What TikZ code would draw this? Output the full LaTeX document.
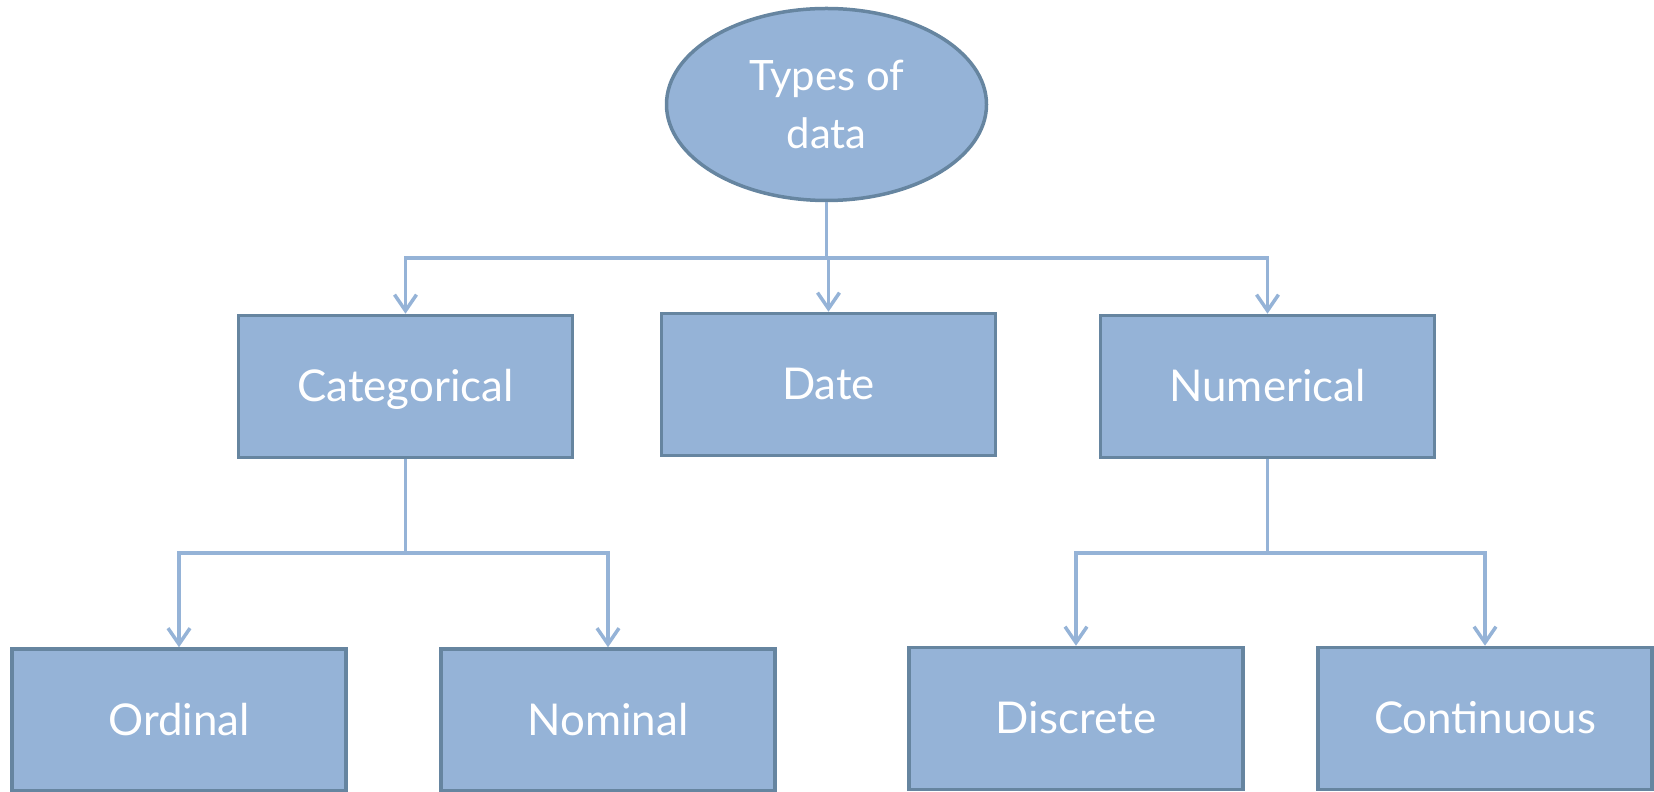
\documentclass[tikz,border=0pt]{standalone}
\usepackage{fontspec}
\setmainfont{Lato}
\usetikzlibrary{shapes.geometric,arrows.meta}
\definecolor{boxfill}{HTML}{95B3D7}
\definecolor{boxline}{HTML}{6685A0}
\definecolor{linkcol}{HTML}{95B3D7}
\tikzset{
  databox/.style={draw=boxline,fill=boxfill,line width=3.5bp,minimum width=334bp,minimum height=142bp,
    text=white,font=\fontsize{44}{50}\selectfont,inner sep=0pt,text height=31bp,text depth=0pt},
  rootnode/.style={ellipse,draw=boxline,fill=boxfill,line width=3.5bp,minimum width=320bp,minimum height=192bp,
    text=white,font=\fontsize{42}{58}\selectfont,align=center,inner sep=0pt},
  link/.style={draw=linkcol,line width=3.5bp,-{Straight Barb[length=16bp,width=22bp,line width=3.5bp]}},
}
\begin{document}
\begin{tikzpicture}[line join=miter]
\useasboundingbox (0bp,0bp) rectangle (1654bp,792bp);
%%
  % Node: types
  \node[rootnode] (types) at (826.5bp,687.5bp) {Types of\\data};
  % Node: cat
  \node[databox] (cat) at (405.5bp,405.5bp) {Categorical};
  % Node: date
  \node[databox] (date) at (828.5bp,407.5bp) {Date};
  % Node: num
  \node[databox] (num) at (1267.5bp,405.5bp) {Numerical};
  % Node: ord
  \node[databox] (ord) at (179bp,72bp) {Ordinal};
  % Node: nom
  \node[databox] (nom) at (608bp,72bp) {Nominal};
  % Node: disc
  \node[databox] (disc) at (1076bp,73.5bp) {Discrete};
  % Node: cont
  \node[databox] (cont) at (1485bp,73.5bp) {Continuous};
%
  \coordinate (split1) at (826.5bp,534bp);
  \coordinate (split2) at (405.5bp,239bp);
  \coordinate (split3) at (1267.5bp,239bp);
  % Edge: types -> cat, date, num
  \draw[link,-] (types.south) -- (split1);
  \draw[link] (split1) -| (cat.north);
  \draw[link] (split1) -| (date.north);
  \draw[link] (split1) -| (num.north);
  % Edge: cat -> ord, nom
  \draw[link,-] (cat.south) -- (split2);
  \draw[link] (split2) -| (ord.north);
  \draw[link] (split2) -| (nom.north);
  % Edge: num -> disc, cont
  \draw[link,-] (num.south) -- (split3);
  \draw[link] (split3) -| (disc.north);
  \draw[link] (split3) -| (cont.north);
%
\end{tikzpicture}
\end{document}
